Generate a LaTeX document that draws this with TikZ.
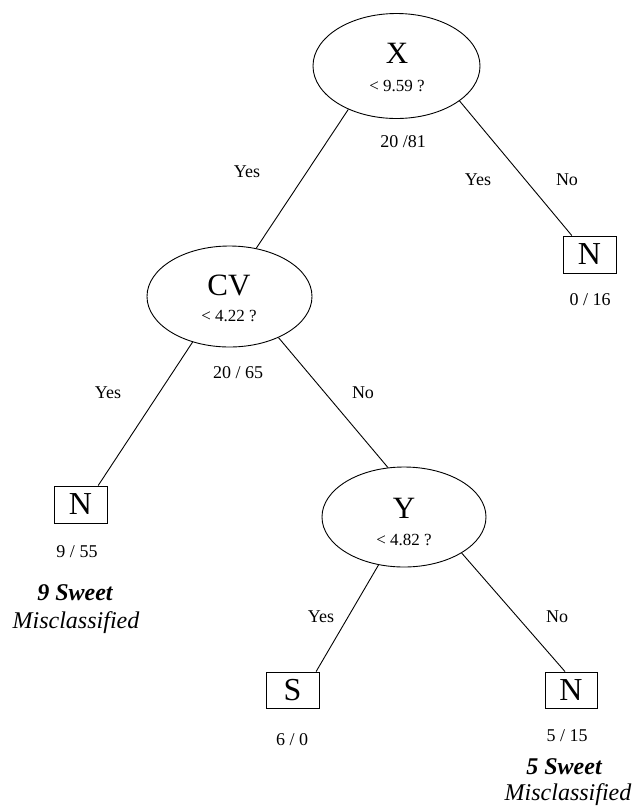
\documentclass[tikz,border=0pt]{standalone}
\usepackage{fontspec}
\setmainfont{Liberation Serif}
\usetikzlibrary{shapes.geometric}
\begin{document}
\begin{tikzpicture}[x=1pt,y=-1pt,
  cond/.style={draw, ellipse, line width=0.9pt, inner sep=0pt},
  leaf/.style={draw, rectangle, line width=0.9pt, inner sep=0pt, minimum width=53pt, minimum height=37pt, font=\fontsize{32}{32}\selectfont},
  big/.style={inner sep=0pt, font=\fontsize{31}{31}\selectfont},
  small/.style={inner sep=0pt, font=\fontsize{17}{17}\selectfont},
  lab/.style={inner sep=0pt, font=\fontsize{18}{18}\selectfont},
  note/.style={inner sep=0pt, font=\fontsize{24}{24}\selectfont\itshape},
  edge/.style={line width=0.9pt}]
\useasboundingbox (0,0) rectangle (636,807);
\fill[white] (0,0) rectangle (636,807);

% decision nodes
\node[cond, minimum width=167pt, minimum height=105pt] (X) at (396.5,66) {};
\node[big] (Xt) at (397,53) {X};
\node[small] (Xc) at (397,86) {< 9.59 ?};

\node[cond, minimum width=165pt, minimum height=101pt] (CV) at (229.5,296.5) {};
\node[big] (CVt) at (229,285.5) {CV};
\node[small] (CVc) at (229,316) {< 4.22 ?};

\node[cond, minimum width=164pt, minimum height=100pt] (Y) at (404,517) {};
\node[big] (Yt) at (404,508.5) {Y};
\node[small] (Yc) at (404,540) {< 4.82 ?};

% leaves
\node[leaf] (NR) at (589.5,254.5) {N};
\node[leaf] (NL) at (80.5,504.5) {N};
\node[leaf, minimum height=36pt] (S) at (292.5,690) {S};
\node[leaf, minimum width=52pt, minimum height=36pt] (NB) at (571,690) {N};

% edges
\draw[edge] (X.222) -- (CV.61);
\draw[edge] (X.-29) -- (NR.133);
\draw[edge] (CV.231) -- (NL.47);
\draw[edge] (CV.320.5) -- (Y.108);
\draw[edge] (Y.242) -- (S.38.7);
\draw[edge] (Y.328) -- (NB.108);

% labels
\node[lab] (l1) at (403,141.5) {20 /81};
\node[lab] (l2) at (247,172) {Yes};
\node[lab] (l3) at (478,180) {Yes};
\node[lab] (l4) at (567,180) {No};
\node[lab] (l5) at (590,300) {0 / 16};
\node[lab] (l6) at (238,373) {20 / 65};
\node[lab] (l7) at (108,393) {Yes};
\node[lab] (l8) at (363,393) {No};
\node[lab] (l9) at (77,552) {9 / 55};
\node[lab] (l10) at (321,617) {Yes};
\node[lab] (l11) at (557,617) {No};
\node[lab] (l12) at (292,740) {6 / 0};
\node[lab] (l13) at (567,735.5) {5 / 15};

\node[note] (m1) at (75,593) {\bfseries 9 Sweet};
\node[note] (m2) at (76,623) {Misclassified};
\node[note] (m3) at (564,767) {\bfseries 5 Sweet};
\node[note] (m4) at (568,795) {Misclassified};
\end{tikzpicture}
\end{document}
